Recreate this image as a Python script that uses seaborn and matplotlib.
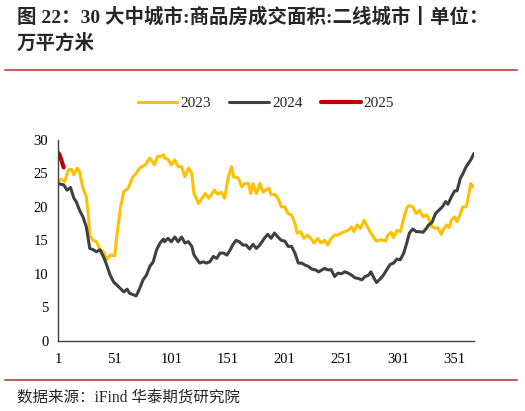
import numpy as np
import pandas as pd
import matplotlib
matplotlib.use("Agg")
import matplotlib.pyplot as plt
import seaborn as sns

# values (day of year -> value)
days_2023 = [1, 4, 7, 10, 13, 15, 18, 20, 23, 26, 28, 29, 32, 35, 38, 41, 44, 47, 51, 53,
             56, 59, 63, 67, 70, 73, 78, 82, 86, 89, 91, 94, 95, 98, 101, 104, 107, 110, 113, 116,
             119, 121, 123, 125, 128, 131, 134, 137, 139, 142, 145, 148, 151, 154, 156, 160, 163, 166, 169, 171,
             173, 176, 179, 182, 184, 187, 189, 192, 195, 198, 201, 204, 207, 210, 212, 215, 218, 221, 224, 227,
             230, 233, 236, 239, 242, 245, 248, 251, 254, 257, 260, 262, 265, 268, 271, 274, 277, 280, 282, 285,
             288, 290, 292, 295, 297, 300, 303, 306, 309, 311, 314, 317, 320, 323, 326, 328, 331, 334, 336, 339,
             341, 344, 346, 348, 351, 353, 356, 358, 361, 363, 365, 367]
vals_2023 = [23.9, 24.1, 23.8, 25.5, 25.6, 24.8, 25.8, 25.3, 22.8, 21.5, 18.3, 15.8, 15.0, 14.8, 13.6, 13.3, 12.1, 12.8, 12.7, 15.8,
             19.8, 22.3, 22.8, 24.5, 25.0, 25.8, 26.3, 27.3, 26.3, 27.6, 27.5, 27.8, 27.3, 27.1, 26.3, 27.0, 26.0, 26.0, 24.5, 25.8,
             25.0, 22.0, 21.3, 20.5, 21.3, 22.0, 21.3, 22.0, 22.5, 21.9, 22.2, 21.3, 24.3, 26.0, 24.5, 24.3, 23.0, 23.5, 23.5, 22.0,
             23.5, 22.0, 23.5, 22.2, 22.5, 22.8, 21.8, 21.9, 21.3, 20.0, 20.0, 19.0, 18.8, 17.5, 16.1, 16.3, 15.3, 15.8, 15.3, 14.6,
             15.3, 14.6, 15.0, 14.3, 15.3, 15.8, 15.8, 16.1, 16.3, 16.5, 17.0, 16.3, 17.3, 16.8, 18.0, 17.0, 16.1, 15.3, 14.9, 15.1,
             15.0, 14.9, 15.8, 16.2, 15.4, 16.5, 16.3, 18.3, 20.0, 20.2, 20.0, 19.0, 19.5, 18.5, 18.8, 18.3, 17.0, 16.8, 16.9, 15.9,
             16.7, 17.3, 16.9, 18.0, 18.5, 17.8, 19.0, 20.0, 20.0, 21.5, 23.5, 23.0]

days_2024 = [1, 3, 6, 9, 12, 15, 17, 20, 23, 26, 29, 32, 35, 38, 41, 44, 47, 50, 53, 56,
             59, 62, 64, 67, 70, 73, 76, 79, 82, 85, 88, 91, 94, 95, 98, 101, 104, 107, 110, 113,
             116, 119, 121, 123, 126, 129, 132, 135, 138, 141, 144, 147, 150, 153, 155, 158, 161, 164, 167, 170,
             173, 176, 179, 183, 186, 189, 192, 195, 198, 201, 204, 207, 210, 213, 216, 219, 222, 225, 228, 231,
             234, 236, 239, 242, 245, 248, 251, 254, 257, 260, 263, 266, 269, 272, 275, 277, 280, 282, 285, 288,
             291, 294, 297, 300, 303, 306, 309, 311, 314, 317, 320, 323, 326, 328, 331, 334, 337, 340, 343, 345,
             348, 351, 353, 356, 358, 361, 363, 365, 368]
vals_2024 = [23.5, 23.4, 23.3, 22.5, 22.9, 21.3, 20.8, 19.5, 18.5, 17.0, 13.8, 13.6, 13.3, 13.6, 12.6, 11.3, 9.8, 8.8, 8.3, 7.8,
             7.3, 7.7, 7.1, 6.9, 6.7, 7.8, 9.1, 9.8, 11.1, 11.8, 13.6, 14.6, 15.2, 14.8, 15.3, 14.8, 15.5, 14.8, 15.5, 14.6,
             14.8, 14.1, 12.8, 12.3, 11.6, 11.8, 11.6, 11.8, 12.6, 12.3, 13.1, 13.1, 12.8, 13.6, 14.3, 15.0, 14.8, 14.3, 14.3, 13.7,
             14.4, 13.8, 14.3, 15.3, 15.9, 15.3, 16.1, 15.5, 15.0, 14.9, 14.1, 14.1, 13.1, 11.6, 11.6, 11.3, 11.1, 10.7, 10.6, 10.3,
             10.6, 10.8, 10.6, 10.6, 9.6, 10.1, 10.0, 10.3, 10.1, 9.8, 9.4, 9.3, 9.1, 9.6, 9.8, 10.3, 9.3, 8.7, 9.2, 9.8,
             10.6, 11.4, 11.6, 12.2, 12.1, 13.1, 14.8, 16.1, 16.7, 16.3, 16.3, 16.2, 16.8, 17.3, 17.7, 19.0, 19.5, 20.0, 20.8, 20.4,
             21.5, 22.4, 22.4, 24.3, 24.9, 26.0, 26.5, 27.0, 28.0]

days_2025 = [1, 2, 3, 4, 5, 6]
vals_2025 = [28.1, 27.9, 27.5, 27.0, 26.4, 25.9]

x_ticks = [1, 51, 101, 151, 201, 251, 301, 351]
y_ticks = [0, 5, 10, 15, 20, 25, 30]

colors = {"2023": "#FFC000", "2024": "#404040", "2025": "#C00000"}
widths = {"2023": 2.2, "2024": 2.2, "2025": 3.0}

df = pd.concat([
    pd.DataFrame({"day": days_2023, "value": vals_2023, "year": "2023"}),
    pd.DataFrame({"day": days_2024, "value": vals_2024, "year": "2024"}),
    pd.DataFrame({"day": days_2025, "value": vals_2025, "year": "2025"}),
])

sns.set_theme(style="white")
serif_cjk = ["Liberation Serif", "Noto Sans CJK SC"]
plt.rcParams["font.family"] = serif_cjk

fig = plt.figure(figsize=(5.25, 4.11), dpi=100)
ax = fig.add_axes([0.1105, 0.171, 0.7924, 0.4884])

for yr in ["2023", "2024", "2025"]:
    sns.lineplot(data=df[df["year"] == yr], x="day", y="value", ax=ax,
                 color=colors[yr], linewidth=widths[yr], label=yr,
                 estimator=None, sort=False)

ax.set_xlim(1, 368)
ax.set_ylim(0, 30)
ax.set_xticks(x_ticks)
ax.set_yticks(y_ticks)
ax.set_xlabel("")
ax.set_ylabel("")
for s in ["top", "right"]:
    ax.spines[s].set_visible(False)
for s in ["left", "bottom"]:
    ax.spines[s].set_color("#404040")
    ax.spines[s].set_linewidth(1.0)
ax.tick_params(axis="both", direction="out", length=4, width=1.0, color="#404040",
               labelsize=10.5, labelcolor="black", pad=3)
ax.tick_params(axis="x", pad=5)

ax.legend(loc="lower center", bbox_to_anchor=(0.5, 1.08), ncol=3, frameon=False,
          fontsize=11, handlelength=2.6, columnspacing=1.2, handletextpad=0.2)

# title and footer
fig.text(0.032, 0.959, "图 22：30 大中城市:商品房成交面积:二线城市丨单位：", fontsize=14,
         fontweight="bold", family=serif_cjk, ha="left", va="center")
fig.text(0.032, 0.895, "万平方米", fontsize=14, fontweight="bold", family=serif_cjk,
         ha="left", va="center")
fig.add_artist(plt.Line2D([0.01, 0.985], [0.83, 0.83], color="#C0605F", linewidth=1.5,
                          transform=fig.transFigure))
fig.add_artist(plt.Line2D([0.01, 0.985], [0.075, 0.075], color="#C0605F", linewidth=1.5,
                          transform=fig.transFigure))
fig.text(0.032, 0.03, "数据来源：iFind 华泰期货研究院", fontsize=11.2, family=serif_cjk,
         ha="left", va="center")

fig.savefig("out.png", dpi=100)
